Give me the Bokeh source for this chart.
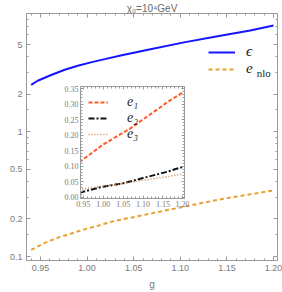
import numpy as np
from bokeh.plotting import figure
from bokeh.models import (FixedTicker, LinearAxis, LogAxis, Range1d, Legend, LegendItem, Label,
                          CustomJSTickFormatter, PrintfTickFormatter)
from bokeh.layouts import column
from bokeh.embed import file_html
from bokeh.resources import INLINE

# ---------------- data ----------------
g_eps = [0.94, 0.947, 0.9615, 0.976, 0.99, 1.004, 1.019, 1.036, 1.068, 1.104, 1.14, 1.175, 1.2]
eps = [2.38, 2.57, 2.86, 3.15, 3.39, 3.61, 3.83, 4.10, 4.60, 5.22, 5.85, 6.49, 7.12]

g_nlo = [0.94, 0.954, 0.969, 0.983, 0.997, 1.012, 1.026, 1.04, 1.058, 1.068, 1.14, 1.2]
e_nlo = [0.113, 0.128, 0.142, 0.153, 0.165, 0.177, 0.190, 0.200, 0.213, 0.221, 0.285, 0.339]

g_e1 = [0.94, 1.0, 1.068, 1.14, 1.16, 1.2]
e1 = [0.113, 0.170, 0.222, 0.287, 0.306, 0.338]

g_e23 = [0.94, 1.0, 1.05, 1.1, 1.16, 1.2]
e2 = [0.015, 0.034, 0.045, 0.062, 0.082, 0.098]
e3 = [0.025, 0.036, 0.045, 0.055, 0.066, 0.075]

x_major = [0.95, 1.00, 1.05, 1.10, 1.15, 1.20]
x_minor = [round(v, 2) for v in np.arange(0.94, 1.205, 0.01) if round(v, 2) not in x_major]
y_major = [0.1, 0.2, 0.5, 1, 2, 5]
y_minor = [0.15, 0.3, 0.4, 0.6, 0.7, 0.8, 0.9, 1.5, 3, 4, 6, 7, 8]
yi_major = [0.00, 0.05, 0.10, 0.15, 0.20, 0.25, 0.30, 0.35]
yi_minor = [round(v, 2) for v in np.arange(0.0, 0.355, 0.01) if round(v, 2) not in yi_major]

title_text = "χ₀=10⁴GeV"

GRAY = "#9a9a9a"
LABEL = "#7a7a7a"


def style_axis(ax, show=True, font="Liberation Sans", size="9px", tin=4, tmin=2):
    ax.axis_line_color = GRAY
    ax.major_tick_line_color = GRAY
    ax.minor_tick_line_color = GRAY
    ax.major_tick_in = tin
    ax.major_tick_out = 0
    ax.minor_tick_in = tmin
    ax.minor_tick_out = 0
    ax.major_label_text_color = LABEL
    ax.major_label_text_font = font
    ax.major_label_standoff = 4
    if show:
        ax.major_label_text_font_size = size
    else:
        ax.major_label_text_font_size = "0px"
        ax.major_label_text_alpha = 0
        ax.major_label_standoff = 0


# ---------------- main figure ----------------
p = figure(width=282, height=292, output_backend="svg", toolbar_location=None,
           x_range=Range1d(0.935, 1.2043), y_range=Range1d(0.0929, 8.9),
           y_axis_type="log",
           min_border_left=26, min_border_right=5, min_border_top=0, min_border_bottom=0)
p.background_fill_color = "white"
p.border_fill_color = "white"
p.outline_line_color = GRAY
p.grid.visible = False

p.title.text = title_text
p.title.align = "center"
p.title.text_font = "Liberation Sans"
p.title.text_font_size = "10px"
p.title.text_font_style = "normal"
p.title.text_color = "#6a6a6a"
p.title.standoff = 0

xt = FixedTicker(ticks=x_major, minor_ticks=x_minor)
yt = FixedTicker(ticks=y_major, minor_ticks=y_minor)

xa = p.xaxis[0]
xa.ticker = xt
xa.formatter = PrintfTickFormatter(format="%.2f")
style_axis(xa)
xa.axis_label = "g"
xa.axis_label_text_font = "Liberation Sans"
xa.axis_label_text_font_style = "normal"
xa.axis_label_text_font_size = "10px"
xa.axis_label_text_color = LABEL
xa.axis_label_standoff = 5

ya = p.yaxis[0]
ya.ticker = yt
ya.formatter = CustomJSTickFormatter(code="return tick.toString();")
style_axis(ya)

top_ax = LinearAxis(ticker=xt)
style_axis(top_ax, show=False)
p.add_layout(top_ax, "above")
right_ax = LogAxis(ticker=yt)
style_axis(right_ax, show=False)
p.add_layout(right_ax, "right")

r_eps = p.line(g_eps, eps, line_color="#1414ff", line_width=2)
r_nlo = p.line(g_nlo, e_nlo, line_color="#e8a030", line_width=2, line_dash="4 3")

leg = Legend(items=[LegendItem(label="ϵ", renderers=[r_eps]),
                    LegendItem(label="e", renderers=[r_nlo])],
             location=(182, 183), orientation="vertical",
             glyph_width=27, glyph_height=14, label_height=14, label_standoff=11,
             spacing=0, padding=0, margin=0, border_line_alpha=0,
             background_fill_alpha=0,
             label_text_font="Liberation Serif", label_text_font_style="italic",
             label_text_font_size="15px", label_text_color="#222222")
p.add_layout(leg)
p.add_layout(Label(x=1.182, y=2.96, text="nlo", text_font="Liberation Serif",
                   text_font_size="11px", text_color="#222222", text_baseline="middle"))

# ---------------- inset ----------------
q = figure(width=135, height=127, output_backend="svg", toolbar_location=None,
           x_range=Range1d(0.943, 1.204), y_range=Range1d(-0.004, 0.357),
           min_border_left=20, min_border_right=3, min_border_top=3, min_border_bottom=12,
           margin=(83 - 292, 0, 0, 54))
q.background_fill_color = "white"
q.border_fill_alpha = 0
q.outline_line_color = GRAY
q.grid.visible = False

qxt = FixedTicker(ticks=x_major, minor_ticks=x_minor)
qyt = FixedTicker(ticks=yi_major, minor_ticks=yi_minor)
qx = q.xaxis[0]
qx.ticker = qxt
qx.formatter = PrintfTickFormatter(format="%.2f")
style_axis(qx, font="Liberation Serif", size="8px", tin=3, tmin=2)
qx.major_label_standoff = 2
qy = q.yaxis[0]
qy.ticker = qyt
qy.formatter = PrintfTickFormatter(format="%.2f")
style_axis(qy, font="Liberation Serif", size="8px", tin=3, tmin=2)
qy.major_label_standoff = 2
q_top = LinearAxis(ticker=qxt)
style_axis(q_top, show=False, tin=3, tmin=2)
q.add_layout(q_top, "above")
q_right = LinearAxis(ticker=qyt)
style_axis(q_right, show=False, tin=3, tmin=2)
q.add_layout(q_right, "right")

r1 = q.line(g_e1, e1, line_color="#ff5a28", line_width=2, line_dash="4 2")
r2 = q.line(g_e23, e2, line_color="#111111", line_width=2, line_dash="6 2 2 2")
r3 = q.line(g_e23, e3, line_color="#c98450", line_width=1.5, line_dash="1 2")

leg2 = Legend(items=[LegendItem(label="e₁", renderers=[r1]),
                     LegendItem(label="e₂", renderers=[r2]),
                     LegendItem(label="e₃", renderers=[r3])],
              location=(8, 56), orientation="vertical",
              glyph_width=20, glyph_height=14, label_height=14, label_standoff=19,
              spacing=0, padding=0, margin=0, border_line_alpha=0,
              background_fill_alpha=0,
              label_text_font="Liberation Serif", label_text_font_style="italic",
              label_text_font_size="14px", label_text_color="#222222")
q.add_layout(leg2)

layout = column(p, q)
open("out.html", "w").write(file_html(layout, INLINE))
